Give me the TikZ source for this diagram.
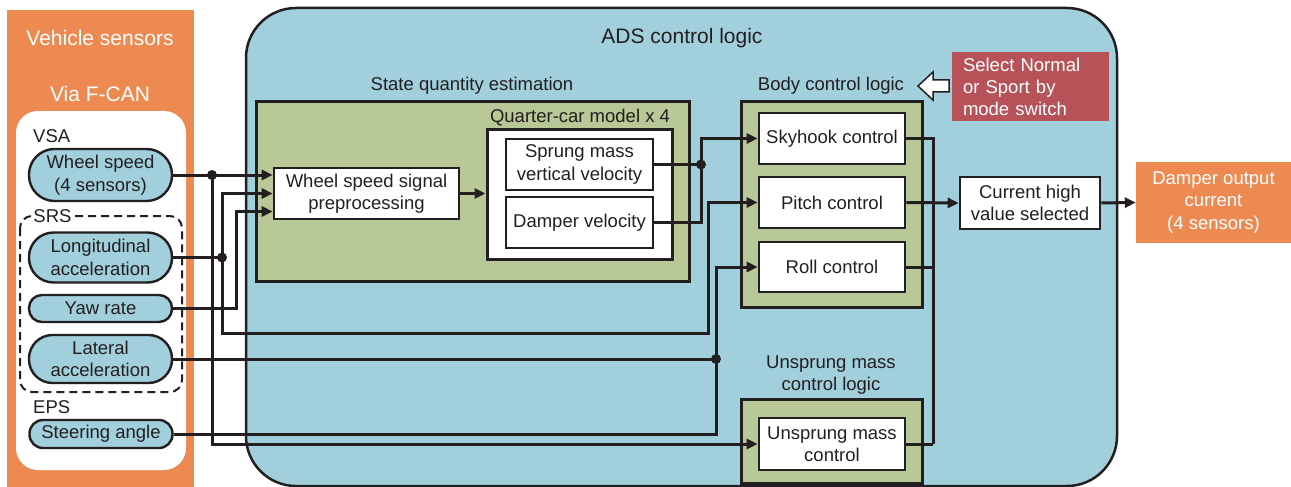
\documentclass[tikz,border=0pt]{standalone}
\usepackage{fontspec}
\setmainfont{Liberation Sans}
\usetikzlibrary{arrows.meta,calc}
\definecolor{orng}{RGB}{236,138,82}
\definecolor{bluebg}{RGB}{161,207,220}
\definecolor{grn}{RGB}{184,200,150}
\definecolor{redbox}{RGB}{183,83,88}
\definecolor{ink}{RGB}{35,31,32}
\tikzset{
  txt/.style={font=\fontsize{18.5}{22.5}\selectfont, text=ink},
  bigtxt/.style={font=\fontsize{21}{25}\selectfont},
  wbox/.style={draw=ink, fill=white, line width=2.6pt, inner sep=0pt, align=center, txt},
  ibox/.style={wbox, line width=2pt},
  pill/.style={draw=ink, fill=bluebg, line width=2.4pt, inner sep=0pt, align=center, txt, minimum width=143pt},
  grp/.style={draw=ink, fill=grn, line width=3pt, inner sep=0pt},
  conn/.style={draw=ink, line width=3pt},
  arr/.style={conn, -{Triangle[length=11pt,width=10pt]}},
}
\begin{document}
\begin{tikzpicture}[x=1pt,y=-1pt]
\useasboundingbox (0,0) rectangle (1291,487);
% left sensor panel
\fill[orng] (7,10) rectangle (194,487);
\fill[white, rounded corners=22pt] (16,111) rectangle (186,470);
\node[txt, bigtxt, text=white] (vsens) at (100,38) {Vehicle sensors};
\node[txt, bigtxt, text=white] (fcan) at (100,94) {Via F-CAN};
\node[txt, anchor=west, inner sep=0pt] (vsa) at (33,136) {VSA};
\draw[ink, line width=2pt, dash pattern=on 8pt off 5pt, rounded corners=12pt] (20,216) rectangle (182,392);
\node[txt, fill=white, inner sep=2pt] (srs) at (52.5,216) {SRS};
\node[txt, anchor=west, inner sep=0pt] (eps) at (33,407) {EPS};
\node[pill, minimum height=52pt, rounded corners=25.5pt] (ws) at (100.5,175) {Wheel speed\\(4 sensors)};
\node[pill, minimum height=50pt, rounded corners=24.5pt] (lon) at (100.5,257.5) {Longitudinal\\acceleration};
\node[pill, minimum height=27pt, rounded corners=13pt] (yaw) at (100.5,308.5) {Yaw rate};
\node[pill, minimum height=48pt, rounded corners=23.5pt] (lat) at (100.5,359) {Lateral\\acceleration};
\node[pill, minimum height=28pt, rounded corners=13.5pt] (st) at (101,434) {Steering angle};
% ADS control logic container
\draw[ink, fill=bluebg, line width=2.5pt, rounded corners=50pt] (246,8) rectangle (1117,486);
\node[txt, bigtxt] (ads) at (682,38) {ADS control logic};
% state quantity estimation
\node[grp, minimum width=433pt, minimum height=180pt] (sqe) at (472.5,191) {};
\node[txt] (sqel) at (472,86) {State quantity estimation};
\node[draw=ink, fill=white, line width=3pt, minimum width=185pt, minimum height=130pt, inner sep=0pt] (qc) at (579.5,194) {};
\node[txt] (qcl) at (580,118) {Quarter-car model x 4};
\node[wbox, minimum width=185pt, minimum height=51pt] (pre) at (366.5,193.5) {Wheel speed signal\\preprocessing};
\node[ibox, minimum width=147pt, minimum height=51pt] (sm) at (579.5,164.5) {Sprung mass\\vertical velocity};
\node[ibox, minimum width=147pt, minimum height=51pt] (dv) at (579.5,222.5) {Damper velocity};
% body control logic
\node[grp, minimum width=181pt, minimum height=206pt] (bcl) at (831.5,204) {};
\node[txt] (bcll) at (831,86) {Body control logic};
\node[wbox, minimum width=146pt, minimum height=51pt] (sky) at (832,138.5) {Skyhook control};
\node[wbox, minimum width=146pt, minimum height=51pt] (pitch) at (832,202.5) {Pitch control};
\node[wbox, minimum width=146pt, minimum height=50pt] (roll) at (832,267) {Roll control};
% unsprung mass control logic
\node[grp, minimum width=181pt, minimum height=84pt] (ucl) at (831.5,441) {};
\node[txt, align=center] (ucll) at (831,375) {Unsprung mass\\control logic};
\node[wbox, minimum width=146pt, minimum height=52pt] (um) at (832,444) {Unsprung mass\\control};
% mode switch
\node[txt, text=white, fill=redbox, minimum width=157pt, minimum height=69pt, inner xsep=11pt, text width=135pt, align=left, font=\fontsize{18.5}{22}\selectfont] (mode) at (1030.5,86.5) {Select Normal\\or Sport by\\mode switch};
\draw[ink, fill=white, line width=1.5pt, line join=miter] (918,86) -- (933,72) -- (933,80) -- (949,80) -- (949,92) -- (933,92) -- (933,100) -- cycle;
% current high value
\node[wbox, minimum width=140pt, minimum height=52pt] (chv) at (1030,203) {Current high\\value selected};
\node[txt, text=white, fill=orng, minimum width=155pt, minimum height=81pt, inner sep=0pt, align=center] (dout) at (1213.5,202.5) {Damper output\\current\\(4 sensors)};
% connectors
\coordinate (j1) at (212,175);
\coordinate (j2) at (222,257.5);
\coordinate (c1) at (708,333);
\coordinate (j3) at (716,359);
\coordinate (j4) at (701,164.5);
\coordinate (bus) at (933,444);
\draw[arr] (ws.east) -- (pre.west |- ws.east);
\draw[arr] (j1) |- (um.west);
\draw[conn] (lon.east) -- (j2);
\draw[arr] (j2) |- (pre.west);
\draw[arr] (j2) |- (c1) |- (pitch.west);
\draw[arr] (yaw.east) -| ($(pre.west)+(-36,18)$) -- ($(pre.west)+(0,18)$);
\draw[conn] (lat.east) -- (j3);
\draw[conn] (st.east) -| (j3);
\draw[arr] (j3) |- (roll.west);
\draw[arr] (pre.east) -- (qc.west |- pre.east);
\draw[conn] (sm.east) -- (j4);
\draw[conn] (dv.east) -| (j4);
\draw[arr] (j4) |- (sky.west);
\draw[conn] (sky.east) -| (bus);
\draw[conn] (um.east) -- (bus);
\draw[conn] (roll.east) -- (roll.east -| bus);
\draw[arr] (pitch.east) -- (chv.west);
\draw[arr] (chv.east) -- (dout.west);
\foreach \j in {j1,j2,j3,j4} \fill[ink] (\j) circle (5);
\end{tikzpicture}
\end{document}
